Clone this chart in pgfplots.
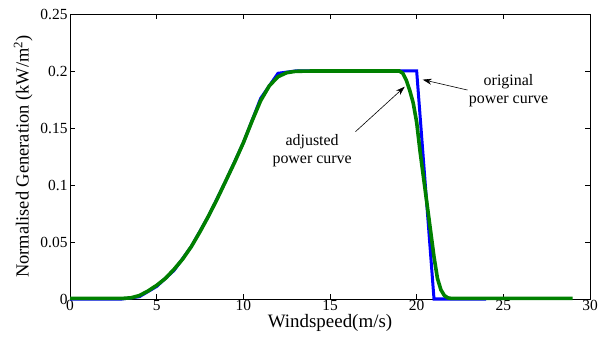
\documentclass[border=0pt]{standalone}
\usepackage{fontspec}
\setmainfont{Liberation Serif}
\usepackage{pgfplots}
\pgfplotsset{compat=1.18}
\usetikzlibrary{arrows.meta}
\definecolor{mblue}{RGB}{0,0,255}
\definecolor{mgreen}{RGB}{0,128,0}
\begin{document}
\begin{tikzpicture}
\begin{axis}[
  scale only axis,
  width=520bp, height=285bp,
  xmin=0, xmax=30, ymin=0, ymax=0.25,
  xtick={0,5,10,15,20,25,30},
  ytick={0,0.05,0.1,0.15,0.2,0.25},
  yticklabels={0,0.05,0.1,0.15,0.2,0.25},
  scaled y ticks=false,
  /pgf/number format/assume math mode=true,
  tick align=inside,
  major tick length=5bp,
  tick style={black, line width=0.6pt},
  axis line style={black, line width=0.9pt},
  ticklabel style={font=\fontsize{15.5}{17}\selectfont},
  xticklabel style={yshift=2bp},
  yticklabel style={xshift=1bp},
  xlabel={Windspeed(m/s)},
  ylabel={Normalised Generation (kW/m\textsuperscript{2})},
  xlabel style={font=\fontsize{19}{21}\selectfont, yshift=3bp},
  ylabel style={font=\fontsize{18.5}{20}\selectfont, yshift=1bp},
  clip=false,
]
\addplot[mblue, line width=3bp] coordinates {
(0,0) (3,0) (4,0.002) (5,0.011) (6,0.025) (7,0.046) (8,0.073) (9,0.104)
(10,0.137) (11,0.176) (12,0.198) (13,0.2) (20,0.2) (21,0) (24,0)
};
\addplot[mgreen, line width=3.6bp] coordinates {
(0,0.0005) (3,0.0005) (3.5,0.001) (4,0.003) (4.5,0.007) (5,0.012) (5.5,0.018)
(6,0.026) (6.5,0.035) (7,0.046) (7.5,0.059) (8,0.073) (8.5,0.088) (9,0.104)
(9.5,0.120) (10,0.137) (10.5,0.156) (11,0.174) (11.5,0.187) (12,0.195)
(12.5,0.1985) (13,0.1997) (14,0.2) (19,0.2) (19.2,0.198) (19.4,0.192)
(19.6,0.183) (19.8,0.172) (20,0.155) (20.2,0.129) (20.4,0.106) (20.6,0.083)
(20.8,0.060) (21,0.037) (21.2,0.018) (21.4,0.008) (21.6,0.003) (21.8,0.001)
(22,0.0005) (29,0.0005)
};
\draw[-{Stealth[length=9bp,width=6bp]}, line width=0.6pt] (axis cs:22.93,0.1833) -- (axis cs:20.35,0.1924);
\draw[-{Stealth[length=9bp,width=6bp]}, line width=0.6pt] (axis cs:16.47,0.1468) -- (axis cs:19.31,0.1862);
\node[align=center, font=\fontsize{16}{18}\selectfont] at (axis cs:25.3,0.1825) {original\\power curve};
\node[align=center, font=\fontsize{16}{18}\selectfont] at (axis cs:13.97,0.13) {adjusted\\power curve};
\end{axis}
\pgfresetboundingbox
\path[use as bounding box] (-70bp,-40bp) rectangle (528bp,299bp);
\end{tikzpicture}
\end{document}
